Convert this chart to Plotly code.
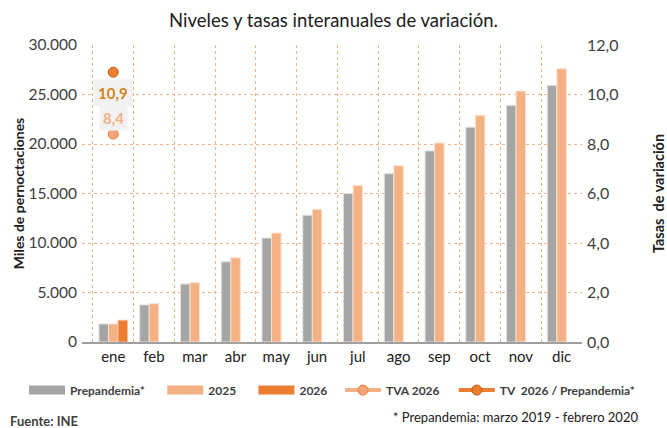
import plotly.graph_objects as go

months = ["ene", "feb", "mar", "abr", "may", "jun", "jul", "ago", "sep", "oct", "nov", "dic"]
prepandemia = [1820, 3740, 5860, 8100, 10500, 12800, 15000, 17000, 19300, 21700, 23900, 25900]
y2025 = [1820, 3870, 5990, 8500, 11000, 13400, 15800, 17800, 20100, 22900, 25350, 27600]
y2026 = [2200, None, None, None, None, None, None, None, None, None, None, None]
tva_2026 = [8.4]
tv_2026_prep = [10.9]
tva_label = ["8,4"]
tv_label = ["10,9"]
bar_names = ["Prepandemia*", "2025", "2026"]
bar_colors = ["#A5A5A5", "#F4B183", "#ED7D31"]

FONT = "Lato, 'Open Sans', sans-serif"
GRID = "#F4B183"
SP = "&nbsp;"

fig = go.Figure()
for vals, name, col, edge in zip([prepandemia, y2025, y2026], bar_names, bar_colors,
                                 ["#E0E0E0", "#FBE0CF", "#F6BE98"]):
    fig.add_trace(go.Bar(x=months, y=vals, name=name, marker_color=col, showlegend=False,
                         marker_line=dict(color=edge, width=1)))
# legend entries drawn as wide rectangles like the reference
for name, col, pad in zip(bar_names, bar_colors, [4, 4, 0]):
    fig.add_trace(go.Scatter(x=[None], y=[None], mode="lines", name="<b>%s</b>%s" % (name, SP * pad),
                             line=dict(color=col, width=9), legend="legend"))
fig.add_trace(go.Scatter(x=months[:1], y=tva_2026, name="<b>TVA 2026</b>" + SP * 3, yaxis="y2",
                         mode="lines+markers", legend="legend2",
                         line=dict(color="#F4B183", width=4),
                         marker=dict(color="#F4A57A", size=10, line=dict(color="#ED7D31", width=1))))
fig.add_trace(go.Scatter(x=months[:1], y=tv_2026_prep, name="<b>TV  2026 / Prepandemia*</b>", yaxis="y2",
                         mode="lines+markers", legend="legend2",
                         line=dict(color="#ED7D31", width=4),
                         marker=dict(color="#ED7D31", size=10, line=dict(color="#C55A11", width=1))))

fig.add_annotation(x=months[0], y=tv_2026_prep[0], yref="y2", text="<b>%s</b>" % tv_label[0],
                   showarrow=False, yshift=-21, bgcolor="#F2F2F2", borderpad=4,
                   font=dict(size=15, color="#D38421", family=FONT))
fig.add_annotation(x=months[0], y=tva_2026[0], yref="y2", text="<b>%s</b>" % tva_label[0],
                   showarrow=False, yshift=16, bgcolor="#F2F2F2", borderpad=3,
                   font=dict(size=15, color="#F4B183", family=FONT))

L, R = 82, 85
PW = 667 - L - R
fig.add_annotation(x=(8 - L) / PW, y=-0.266, xref="paper", yref="paper", xanchor="left", yanchor="middle",
                   text="<b>Fuente: INE</b>", showarrow=False,
                   font=dict(size=13, color="#404040", family=FONT))
fig.add_annotation(x=(640 - L) / PW, y=-0.2525, xref="paper", yref="paper", xanchor="right", yanchor="middle",
                   text="* Prepandemia: marzo 2019 - febrero 2020", showarrow=False,
                   font=dict(size=13, color="#202020", family=FONT))

leg_common = dict(orientation="h", xanchor="left", y=-0.162, yanchor="middle",
                  font=dict(size=12, color="#404040"), itemwidth=36, traceorder="normal")

fig.update_layout(
    width=667, height=428,
    margin=dict(l=L, r=R, t=45, b=86, autoexpand=False),
    paper_bgcolor="white", plot_bgcolor="white",
    separators=",.",
    font=dict(family=FONT, color="#404040"),
    title=dict(text="Niveles y tasas interanuales de variación.", x=0.5, xanchor="center",
               y=0.953, yanchor="middle", font=dict(size=18.5, color="#202020", family=FONT),
               automargin=False),
    barmode="group", bargap=0.3, bargroupgap=0,
    xaxis=dict(type="category", tickson="boundaries", showgrid=True, gridcolor=GRID,
               griddash="dot", gridwidth=1, showline=True, linecolor="#A0A0A0", linewidth=2,
               ticks="", tickfont=dict(size=15, color="#202020"), automargin=False),
    yaxis=dict(range=[0, 30000], dtick=5000, tickformat=",.0f", showgrid=True, gridcolor=GRID,
               griddash="dot", zeroline=False, ticks="", tickfont=dict(size=15.5), automargin=False,
               ticklabelstandoff=4,
               title=dict(text="<b>Miles de pernoctaciones</b>", font=dict(size=14, color="#202020"),
                          standoff=0)),
    yaxis2=dict(range=[0, 12], dtick=2, tickformat=".1f", overlaying="y", side="right",
                showgrid=False, zeroline=False, ticks="", tickfont=dict(size=16), automargin=False,
                ticklabelstandoff=4,
                title=dict(text="<b>Tasas&nbsp;&nbsp;de variación</b>",
                           font=dict(size=14.5, color="#202020"), standoff=36)),
    legend=dict(x=(24 - L) / PW, **leg_common),
    legend2=dict(x=(340 - L) / PW, **leg_common),
    showlegend=True,
)

fig.write_html("out.html", post_script="document.body.style.margin='0';",
               config={"displayModeBar": False})
